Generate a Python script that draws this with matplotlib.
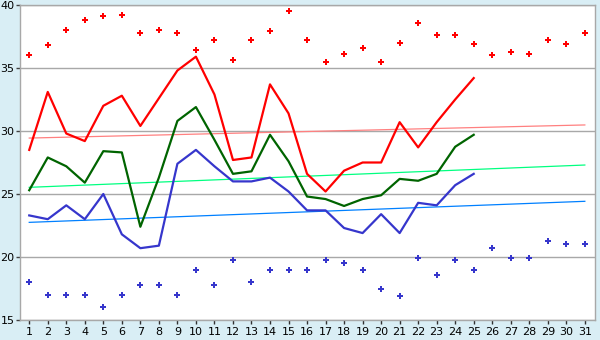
import matplotlib
matplotlib.use("Agg")
import matplotlib.pyplot as plt
import numpy as np

# Days of the month
days = np.arange(1, 32)
days_obs = np.arange(1, 26)

# Daily maximum / mean / minimum (observed, days 1-25)
temp_max = [28.5, 33.1, 29.8, 29.2, 32.0, 32.8, 30.4, 32.6, 34.8, 35.9,
            32.9, 27.7, 27.9, 33.7, 31.4, 26.6, 25.2, 26.85, 27.5, 27.5,
            30.7, 28.7, 30.7, 32.5, 34.2]
temp_mean = [25.3, 27.9, 27.2, 25.9, 28.4, 28.3, 22.4, 26.3, 30.8, 31.9,
             29.3, 26.6, 26.8, 29.7, 27.6, 24.8, 24.6, 24.05, 24.6, 24.9,
             26.2, 26.05, 26.6, 28.75, 29.7]
temp_min = [23.3, 23.0, 24.1, 23.0, 25.0, 21.8, 20.7, 20.9, 27.4, 28.5,
            27.2, 26.0, 26.0, 26.3, 25.2, 23.7, 23.7, 22.3, 21.9, 23.4,
            21.9, 24.3, 24.1, 25.7, 26.6]

# Record highs / lows for each day (1-31)
record_max = [36.0, 36.8, 38.0, 38.8, 39.1, 39.2, 37.8, 38.0, 37.8, 36.4,
              37.2, 35.6, 37.2, 37.9, 39.5, 37.2, 35.45, 36.1, 36.6, 35.5,
              37.0, 38.6, 37.6, 37.6, 36.9, 36.0, 36.25, 36.1, 37.2, 36.9, 37.8]
record_min = [18.0, 17.0, 17.0, 17.0, 16.0, 17.0, 17.8, 17.75, 17.0, 18.95,
              17.8, 19.8, 18.0, 19.0, 18.95, 19.0, 19.74, 19.5, 18.95, 17.5,
              16.9, 19.9, 18.55, 19.74, 18.95, 20.7, 19.9, 19.9, 21.25, 21.0, 21.0]

# Normal (trend) values at day 1 and day 31
trend_days = [1, 31]
normal_max = [29.44, 30.48]
normal_mean = [25.53, 27.3]
normal_min = [22.75, 24.42]

fig = plt.figure(figsize=(6, 3.4), dpi=100, facecolor="#D9EEF5")
ax = fig.add_axes([0.0333, 0.0588, 0.9584, 0.9265])
ax.set_facecolor("white")

# Grid
ax.set_axisbelow(True)
ax.grid(True, axis="y", color="#A8A8A8", linewidth=1.0)

# Normals
ax.plot(trend_days, normal_max, color="#FF8080", linewidth=0.9)
ax.plot(trend_days, normal_mean, color="#00FF80", linewidth=0.9)
ax.plot(trend_days, normal_min, color="#0080FF", linewidth=0.9)

# Observed lines
ax.plot(days_obs, temp_max, color="#FF0000", linewidth=1.6)
ax.plot(days_obs, temp_mean, color="#006400", linewidth=1.6)
ax.plot(days_obs, temp_min, color="#3636CC", linewidth=1.6)

# Records
ax.plot(days, record_max, linestyle="none", marker="P", markersize=5,
        color="#FF0000", markeredgewidth=0)
ax.plot(days, record_min, linestyle="none", marker="P", markersize=5,
        color="#3636CC", markeredgewidth=0)

ax.set_xlim(0.5, 31.55)
ax.set_ylim(15, 40)
ax.set_xticks(days)
ax.set_yticks([15, 20, 25, 30, 35, 40])

for spine in ax.spines.values():
    spine.set_color("#A8A8A8")
    spine.set_linewidth(1.0)

ax.tick_params(axis="both", colors="#404040", labelcolor="black",
               labelsize=8, length=3, width=1, pad=1)
ax.tick_params(axis="x", color="#303030", pad=2)

plt.savefig("out.png", dpi=100, facecolor=fig.get_facecolor())
